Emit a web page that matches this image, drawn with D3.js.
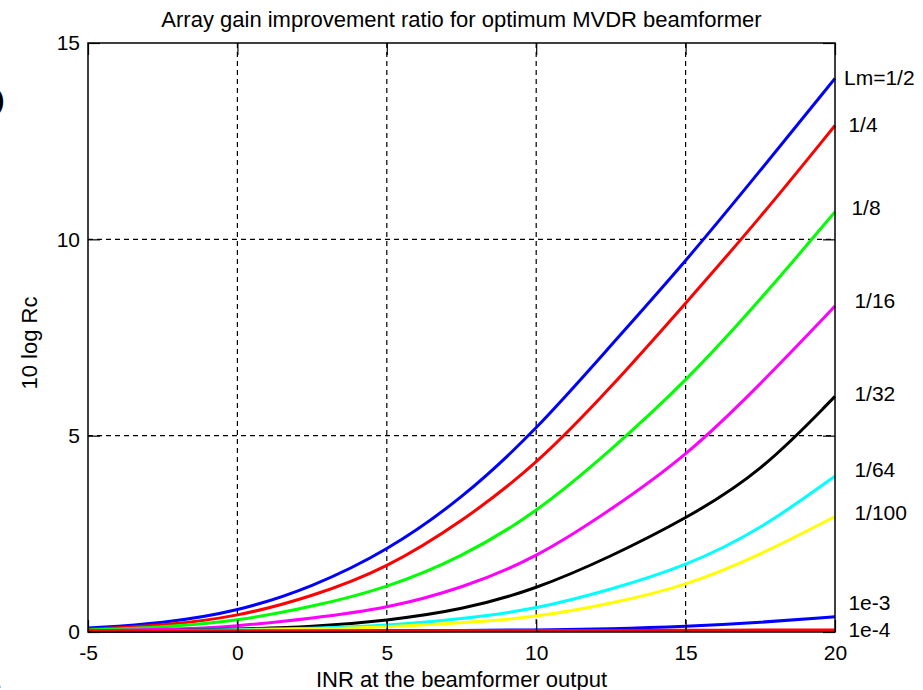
<!DOCTYPE html>
<html>
<head>
<meta charset="utf-8">
<script src="https://cdn.jsdelivr.net/npm/d3@7"></script>
<style>
  body { margin: 0; background: #fff; }
  svg { display: block; font-family: "Liberation Sans", Arial, sans-serif; }
</style>
</head>
<body>
<svg id="chart" width="923" height="690"></svg>
<script>
// INR at the beamformer output (dB)
const inr = [-5, -2.5, 0, 2.5, 5, 7.5, 10, 12.5, 15, 17.5, 20];

// 10 log Rc for each Lm
const lmHalf = [0.1, 0.22, 0.52, 1.14, 2.06, 3.38, 5.14, 7.3, 9.43, 11.75, 14.1];
const lmQuarter = [0.07, 0.16, 0.39, 0.9, 1.62, 2.8, 4.25, 6.22, 8.37, 10.55, 12.9];
const lmEighth = [0.05, 0.12, 0.28, 0.64, 1.12, 1.9, 3.03, 4.63, 6.37, 8.45, 10.7];
const lm16 = [0.03, 0.06, 0.14, 0.35, 0.6, 1.11, 1.88, 3.11, 4.46, 6.3, 8.3];
const lm32 = [0.01, 0.03, 0.07, 0.13, 0.29, 0.56, 1.09, 1.92, 2.88, 4.05, 6.0];
const lm64 = [0.02, 0.03, 0.06, 0.09, 0.16, 0.33, 0.58, 1.08, 1.67, 2.6, 3.97];
const lm100 = [0.01, 0.02, 0.04, 0.07, 0.13, 0.23, 0.37, 0.72, 1.17, 1.96, 2.94];
const lm1e3 = [0.01, 0.01, 0.01, 0.02, 0.03, 0.04, 0.05, 0.08, 0.14, 0.24, 0.39];
const lm1e4 = [0.03, 0.03, 0.03, 0.03, 0.03, 0.04, 0.04, 0.04, 0.04, 0.05, 0.05];

const seriesNames = ["Lm=1/2", "1/4", "1/8", "1/16", "1/32", "1/64", "1/100", "1e-3", "1e-4"];
const seriesValues = [lmHalf, lmQuarter, lmEighth, lm16, lm32, lm64, lm100, lm1e3, lm1e4];
const seriesColors = ["#0000ff", "#ff0000", "#00ff00", "#ff00ff", "#000000", "#00ffff", "#ffff00", "#0000ff", "#ff0000"];

// text annotation anchors (data units), as placed in the original figure
const labelX = [20.3, 20.45, 20.55, 20.65, 20.65, 20.65, 20.65, 20.45, 20.45];
const labelY = [14.11, 12.91, 10.8, 8.45, 6.06, 4.13, 3.03, 0.76, 0.05];

const xTicks = [-5, 0, 5, 10, 15, 20];
const yTicks = [0, 5, 10, 15];

const margin = { top: 43, right: 88, bottom: 58, left: 88 };
const svg = d3.select("#chart");
const W = +svg.attr("width");
const H = +svg.attr("height");
const width = W - margin.left - margin.right;
const height = H - margin.top - margin.bottom;

svg.append("rect").attr("width", W).attr("height", H).attr("fill", "#fff");

const g = svg.append("g").attr("transform", `translate(${margin.left},${margin.top})`);

const xScale = d3.scaleLinear().domain([-5, 20]).range([0, width]);
const yScale = d3.scaleLinear().domain([0, 15]).range([height, 0]);

// grid
g.append("g")
  .selectAll("line")
  .data(xTicks.slice(1, -1))
  .join("line")
  .attr("x1", (d) => xScale(d))
  .attr("x2", (d) => xScale(d))
  .attr("y1", 0)
  .attr("y2", height)
  .attr("stroke", "#000")
  .attr("stroke-width", 1.2)
  .attr("stroke-dasharray", "5,4");

g.append("g")
  .selectAll("line")
  .data(yTicks.slice(1, -1))
  .join("line")
  .attr("x1", 0)
  .attr("x2", width)
  .attr("y1", (d) => yScale(d))
  .attr("y2", (d) => yScale(d))
  .attr("stroke", "#000")
  .attr("stroke-width", 1.2)
  .attr("stroke-dasharray", "5,4");

// lines
const line = d3
  .line()
  .x((d, i) => xScale(inr[i]))
  .y((d) => yScale(d))
  .curve(d3.curveBasis);

g.append("g")
  .selectAll("path")
  .data(seriesValues)
  .join("path")
  .attr("fill", "none")
  .attr("stroke", (d, i) => seriesColors[i])
  .attr("stroke-width", 3)
  .attr("stroke-linejoin", "round")
  .attr("d", (d) => line(d));

// axes (MATLAB style: ticks pointing inward on all four sides)
const tickLen = 12;
const fontSize = 21;
const fmt = (d) => String(d);

const xAxis = g.append("g")
  .attr("transform", `translate(0,${height})`)
  .call(d3.axisBottom(xScale).tickValues(xTicks).tickSizeInner(-tickLen).tickSizeOuter(0).tickPadding(13).tickFormat(fmt));
const xTop = g.append("g")
  .call(d3.axisTop(xScale).tickValues(xTicks).tickSizeInner(-tickLen).tickSizeOuter(0).tickFormat(""));
const yAxis = g.append("g")
  .call(d3.axisLeft(yScale).tickValues(yTicks).tickSizeInner(-tickLen).tickSizeOuter(0).tickPadding(8).tickFormat(fmt));
const yRight = g.append("g")
  .attr("transform", `translate(${width},0)`)
  .call(d3.axisRight(yScale).tickValues(yTicks).tickSizeInner(-tickLen).tickSizeOuter(0).tickFormat(""));

[xAxis, xTop, yAxis, yRight].forEach((a) => {
  a.select(".domain").remove();
  a.selectAll(".tick line").attr("stroke", "#000").attr("stroke-width", 1.2);
  a.selectAll(".tick text")
    .attr("fill", "#000")
    .attr("font-size", fontSize)
    .attr("font-family", "Liberation Sans, Arial, sans-serif");
});

// box
g.append("rect")
  .attr("width", width)
  .attr("height", height)
  .attr("fill", "none")
  .attr("stroke", "#000")
  .attr("stroke-width", 1.5);

// curve labels
g.append("g")
  .selectAll("text")
  .data(seriesNames)
  .join("text")
  .attr("x", (d, i) => xScale(labelX[i]))
  .attr("y", (d, i) => yScale(labelY[i]))
  .attr("dy", "0.35em")
  .attr("font-size", fontSize)
  .attr("fill", "#000")
  .text((d) => d);

// title and axis labels
svg.append("text")
  .attr("x", margin.left + width / 2)
  .attr("y", 27)
  .attr("text-anchor", "middle")
  .attr("font-size", 22)
  .text("Array gain improvement ratio for optimum MVDR beamformer");

svg.append("text")
  .attr("x", margin.left + width / 2)
  .attr("y", 687)
  .attr("text-anchor", "middle")
  .attr("font-size", 22)
  .text("INR at the beamformer output");

svg.append("text")
  .attr("transform", "translate(37,343) rotate(-90)")
  .attr("text-anchor", "middle")
  .attr("font-size", 22)
  .text("10 log Rc");

// cropped remnants at the left edge of the original image
svg.append("text")
  .attr("x", 5)
  .attr("y", 118)
  .attr("text-anchor", "end")
  .attr("font-size", 46)
  .attr("font-weight", "bold")
  .text("O");
svg.append("text")
  .attr("x", -4)
  .attr("y", 688)
  .attr("font-size", 22)
  .text(".");
</script>
</body>
</html>
